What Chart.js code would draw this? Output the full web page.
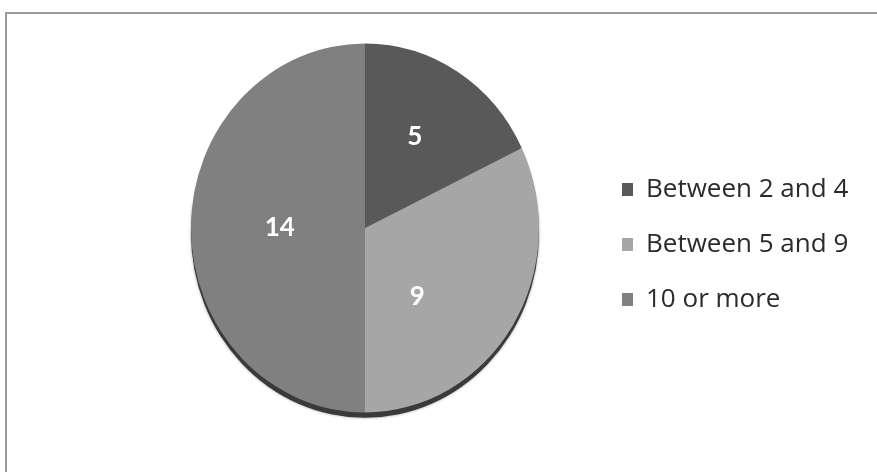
<!DOCTYPE html>
<html>
<head>
<meta charset="utf-8">
<script src="https://cdn.jsdelivr.net/npm/chart.js@4.4.0/dist/chart.umd.min.js"></script>
<style>
  body { margin: 0; background: #fff; overflow: hidden; }
  #frame { position: absolute; left: 5px; top: 12px; width: 900px; height: 500px;
           border-left: 2px solid #9a9a9a; border-top: 2px solid #9a9a9a; }
  #pieChart { position: absolute; left: 0; top: 0; }
</style>
</head>
<body>
<div id="frame"></div>
<canvas id="pieChart" width="877" height="472"></canvas>
<script>
const groups = ['Between 2 and 4', 'Between 5 and 9', '10 or more'];
const counts = [5, 9, 14];

const shades = ['#595959', '#a6a6a6', '#808080'];
const tiltY = 1.06;              // pie is a little taller than wide
const labelTurn = [-2, 19, 0];   // degrees away from the slice middle
const labelDist = [0.57, 0.48, 0.49];
const pieX = 365, legendX = 622;

// squash the pie a bit and put a dark rim under it, then write the counts
const pieLook = {
  id: 'pieLook',
  beforeDatasetsDraw(chart) {
    const arc = chart.getDatasetMeta(0).data[0];
    const ctx = chart.ctx;
    ctx.save();
    ctx.translate(arc.x, arc.y);
    ctx.scale(1, tiltY);
    ctx.translate(-arc.x, -arc.y);
    ctx.save();
    ctx.shadowColor = 'rgba(0,0,0,0.4)';
    ctx.shadowBlur = 3;
    ctx.fillStyle = '#3a3a3a';
    ctx.beginPath();
    ctx.arc(arc.x, arc.y + 5, arc.outerRadius, 0, Math.PI * 2);
    ctx.fill();
    ctx.restore();
  },
  afterDatasetsDraw(chart) {
    const ctx = chart.ctx;
    ctx.restore();
    ctx.save();
    ctx.fillStyle = '#ffffff';
    ctx.font = 'bold 26px Lato';
    ctx.textAlign = 'center';
    ctx.textBaseline = 'middle';
    chart.getDatasetMeta(0).data.forEach((arc, i) => {
      let mid = (arc.startAngle + arc.endAngle) / 2 + labelTurn[i] * Math.PI / 180;
      let r = arc.outerRadius * labelDist[i];
      ctx.fillText(counts[i], arc.x + Math.cos(mid) * r, arc.y + Math.sin(mid) * r * tiltY);
    });
    ctx.restore();
  }
};

const ctx = document.getElementById('pieChart').getContext('2d');
const pie = new Chart(ctx, {
  type: 'pie',
  data: {
    labels: groups,
    datasets: [{
      data: counts,
      backgroundColor: shades,
      borderWidth: 0,
      radius: 174
    }]
  },
  options: {
    responsive: false,
    animation: false,
    events: [],
    layout: {
      padding: { left: 118, right: 40, top: 54, bottom: 70 }
    },
    plugins: {
      tooltip: { enabled: false },
      legend: {
        position: 'right',
        align: 'start',
        title: { display: true, text: '', padding: { top: 79, bottom: 0 } },
        labels: {
          boxWidth: 11,
          boxHeight: 13,
          padding: 29,
          color: '#2b2b2b',
          font: { family: 'Open Sans', size: 26 }
        }
      }
    }
  },
  plugins: [pieLook]
});

// slide the legend to x = 622 and keep the pie centred at x = 365
for (let k = 0; k < 3; k++) {
  const pad = pie.options.layout.padding;
  const dx = pie.legend.legendHitBoxes[0].left - legendX;
  const cx = pie.getDatasetMeta(0).data[0].x - pieX;
  pad.right += dx;
  pad.left += dx - 2 * cx;
  pie.update();
}
</script>
</body>
</html>
